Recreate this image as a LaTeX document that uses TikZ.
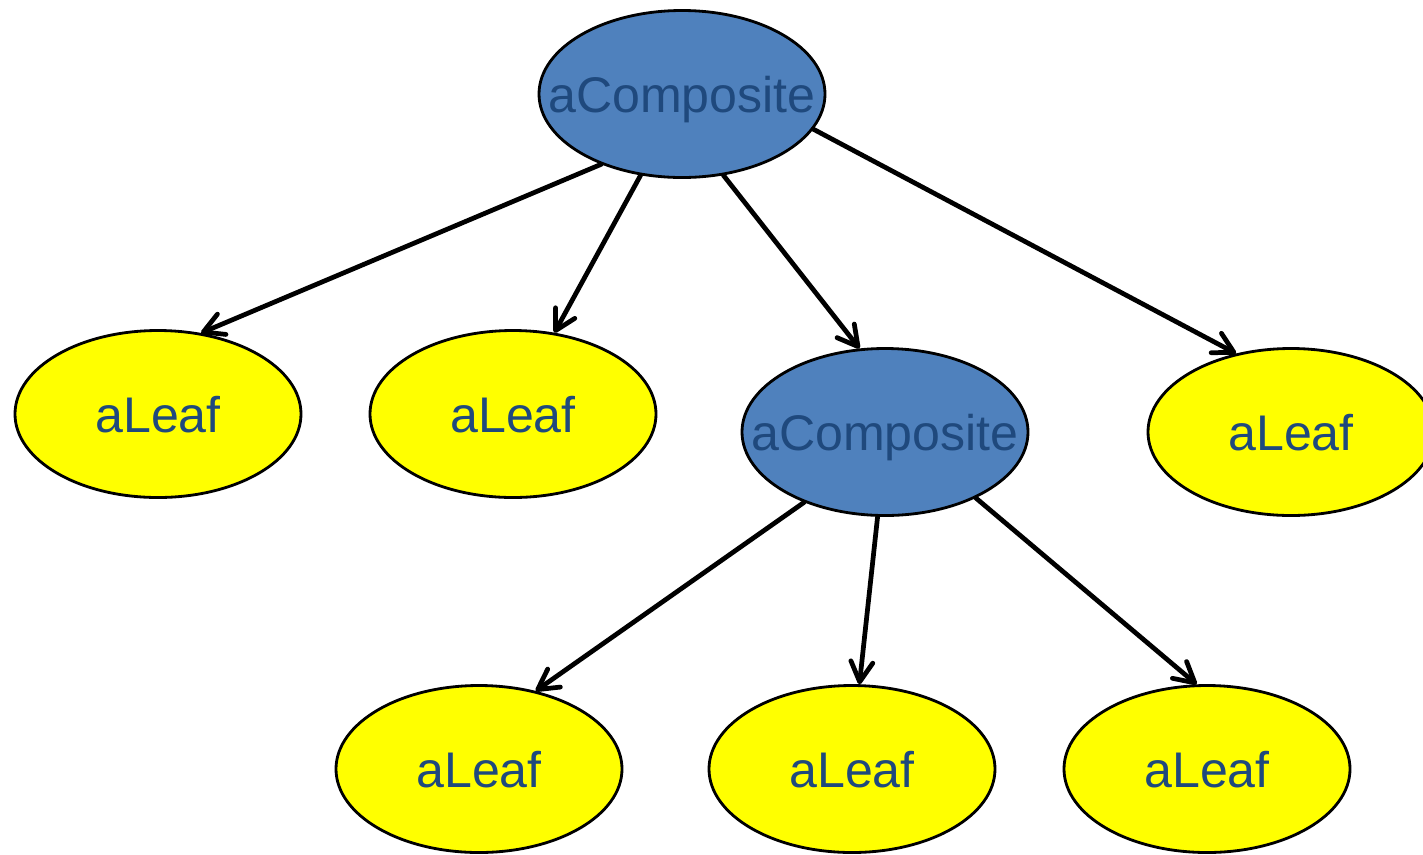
\documentclass[tikz,border=0pt]{standalone}
\usepackage{fontspec}
\setmainfont{Liberation Sans}
\usetikzlibrary{shapes.geometric, arrows.meta}
\definecolor{compblue}{HTML}{4F81BD}
\definecolor{textblue}{HTML}{1F497D}
\definecolor{leafyellow}{HTML}{FFFF00}
\tikzstyle{objnode} = [
	ellipse,
	minimum width=5.72cm,
	minimum height=3.34cm,
	inner xsep=-1.5cm,
	text depth=0pt,
	text centered,
	text=textblue,
	font=\fontsize{28.5}{34}\selectfont,
	line width=1.6pt,
	draw=black,
]
\tikzstyle{composite} = [objnode, fill=compblue]
\tikzstyle{leaf} = [objnode, fill=leafyellow]
\tikzstyle{arrow} = [line width=2.7pt, line cap=round, -{Straight Barb[length=4mm,width=4.4mm,round]}]

\begin{document}
\begin{tikzpicture}
		\useasboundingbox (0,0) rectangle (28.46,-17.08);

		\node (root) [composite] at (13.64,-1.88) {aComposite};
		\node (leafa) [leaf] at (3.16,-8.28) {aLeaf};
		\node (leafb) [leaf] at (10.26,-8.28) {aLeaf};
		\node (sub) [composite] at (17.70,-8.64) {aComposite};
		\node (leafc) [leaf] at (25.82,-8.64) {aLeaf};
		\node (leafd) [leaf] at (9.58,-15.38) {aLeaf};
		\node (leafe) [leaf] at (17.04,-15.38) {aLeaf};
		\node (leaff) [leaf] at (24.14,-15.38) {aLeaf};

		\draw [arrow] (root.221) -- (leafa.62);
		\draw [arrow] (root.243) -- (leafb.63);
		\draw [arrow] (root.297) -- (sub.107);
		\draw [arrow] (root.345) -- (leafc.125);

		\draw [arrow] (sub.221) -- (leafd.54);
		\draw [arrow] (sub.265) -- (leafe.85);
		\draw [arrow] (sub.324) -- (leaff.97);
	\end{tikzpicture}
\end{document}
